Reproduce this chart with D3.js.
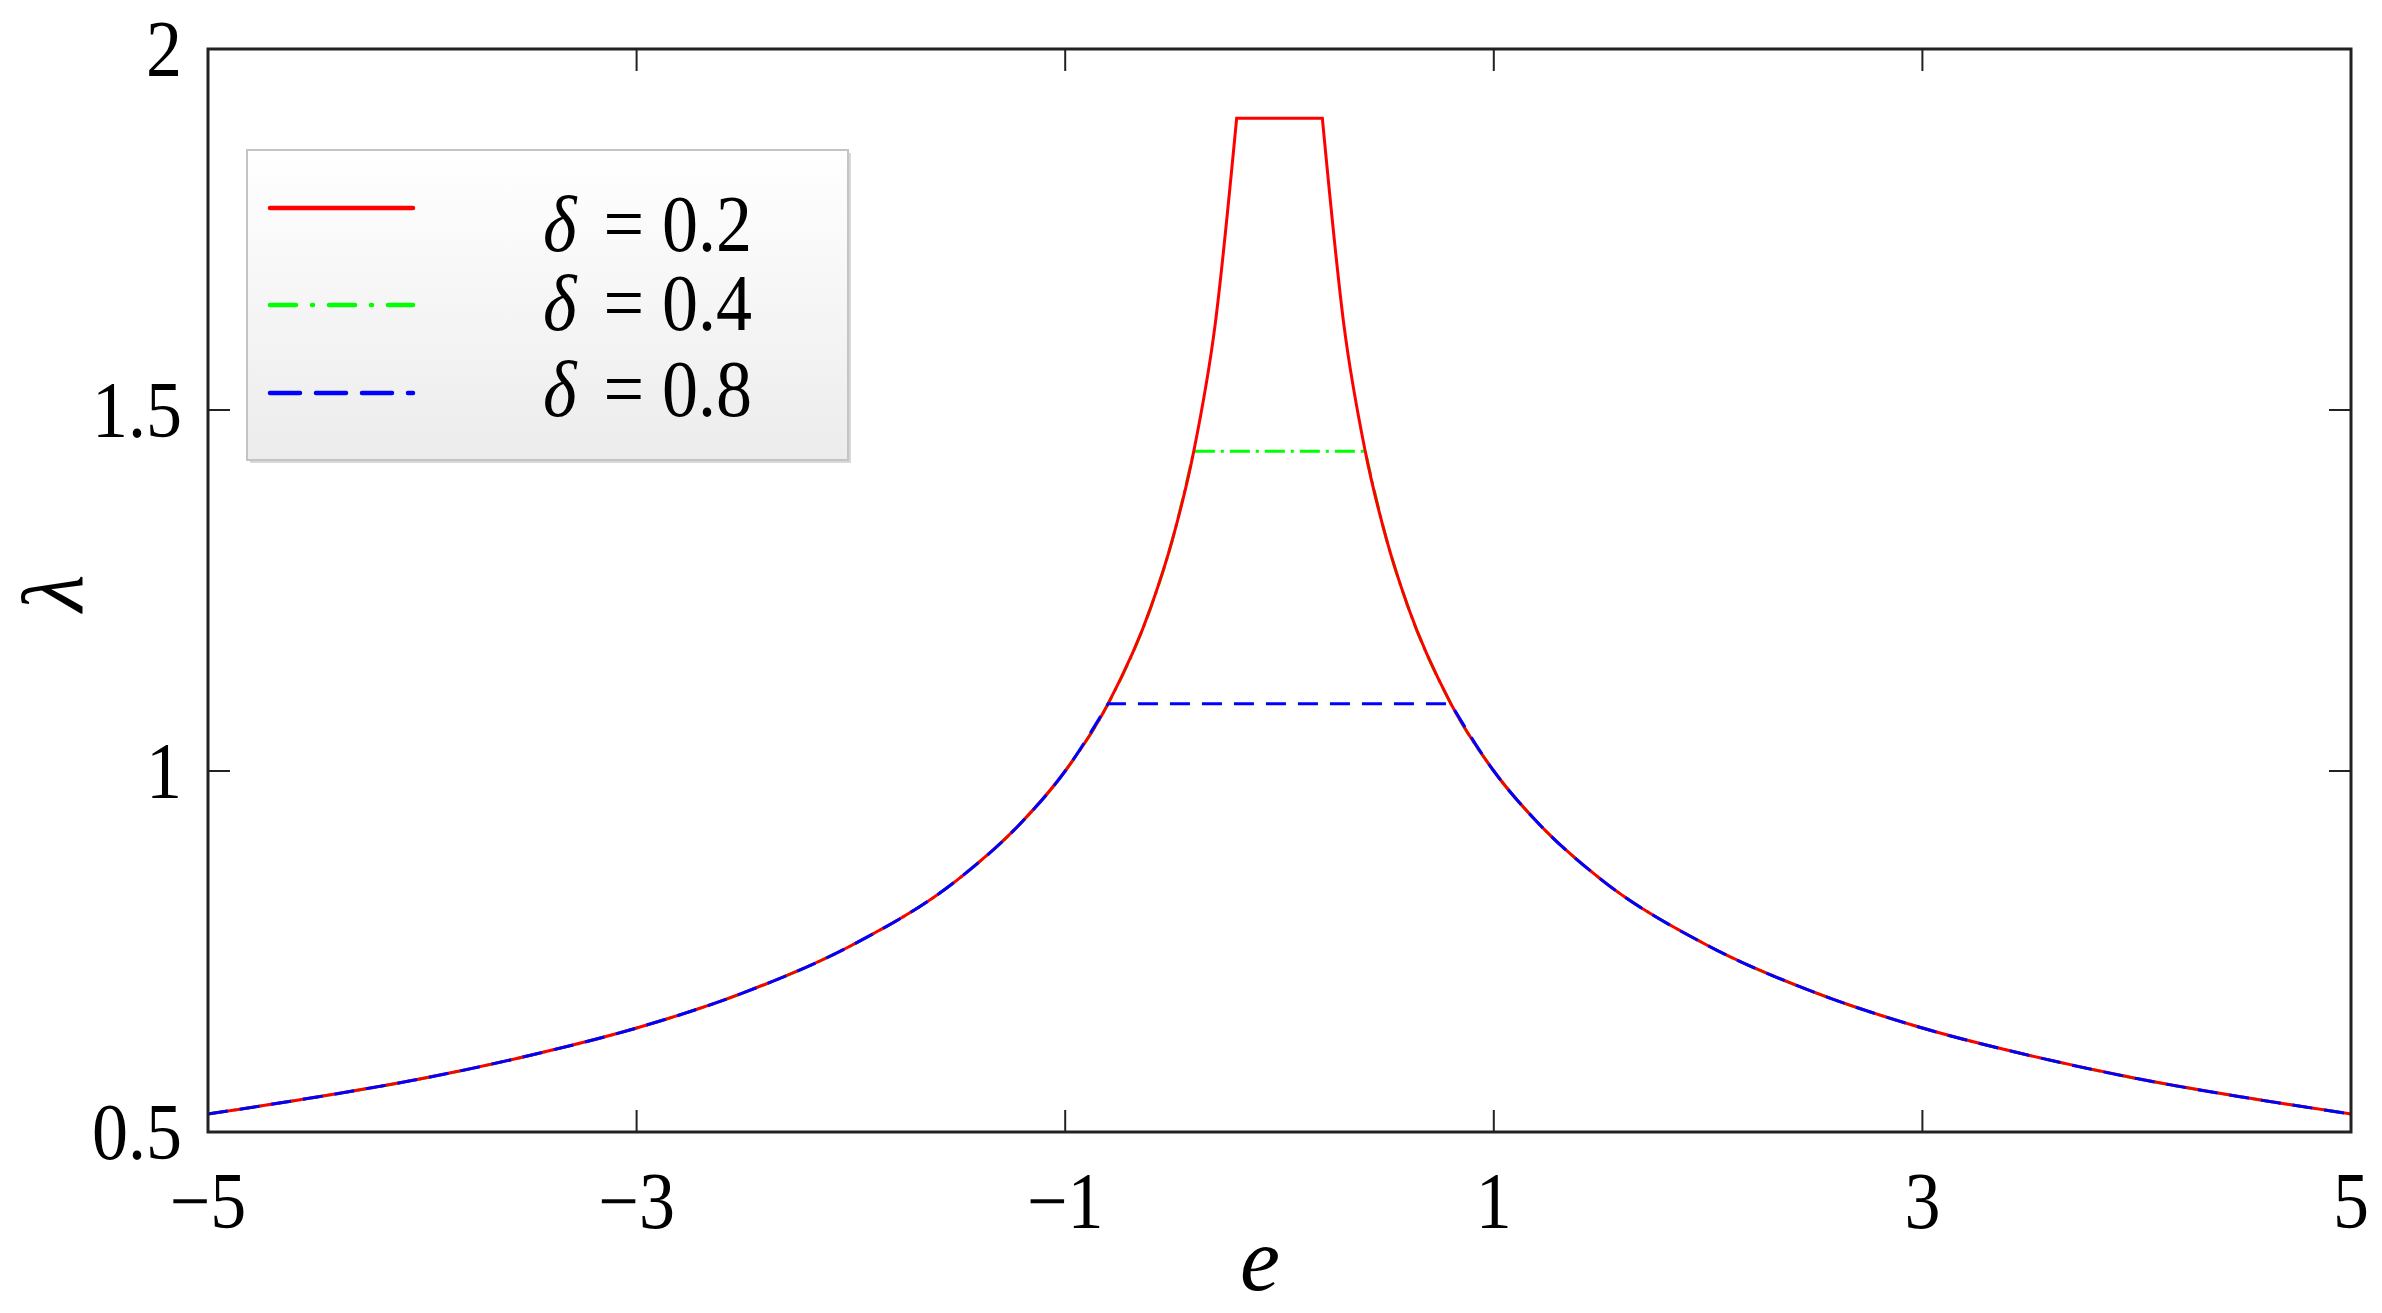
<!DOCTYPE html>
<html>
<meta charset="utf-8">
<style>
  body { margin: 0; background: #fff; }
</style>
<body>
<svg width="2382" height="1313"></svg>
<script src="https://d3js.org/d3.v7.min.js"></script>
<script>
// values (curve is symmetric in e)
const eVals   = [-5, -4.5, -4, -3.5, -3, -2.5, -2, -1.5, -1.2, -1, -0.8, -0.6, -0.5, -0.4, -0.3, -0.2,
                  0.2, 0.3, 0.4, 0.5, 0.6, 0.8, 1, 1.2, 1.5, 2, 2.5, 3, 3.5, 4, 4.5, 5];
const lamVals = [0.525, 0.548, 0.574, 0.606, 0.644, 0.693, 0.758, 0.850, 0.930, 1.0, 1.093, 1.227, 1.32, 1.443, 1.619, 1.904,
                 1.904, 1.619, 1.443, 1.32, 1.227, 1.093, 1.0, 0.930, 0.850, 0.758, 0.693, 0.644, 0.606, 0.574, 0.548, 0.525];
const deltas = [0.2, 0.4, 0.8];
const legendLabels = ["δ = 0.2", "δ = 0.4", "δ = 0.8"];
const colors = ["#ff0000", "#00ff00", "#0000ff"];
const xTicks = [-5, -3, -1, 1, 3, 5];
const yTicks = [0.5, 1, 1.5, 2];

const FONT = "'Liberation Serif', 'Times New Roman', Tinos, serif";

const svg = d3.select("svg").attr("font-family", FONT);
const width = +svg.attr("width"), height = +svg.attr("height");
const margin = {top: 49, right: 31, bottom: 181, left: 208};
const innerW = width - margin.left - margin.right;
const innerH = height - margin.top - margin.bottom;

const x = d3.scaleLinear().domain([-5, 5]).range([0, innerW]);
const y = d3.scaleLinear().domain([0.5, 2]).range([innerH, 0]);

const g = svg.append("g").attr("transform", `translate(${margin.left},${margin.top})`);

// points of one curve: the shared curve where |e| >= delta
function series(delta) {
  const pts = [];
  eVals.forEach((e, i) => {
    if (Math.abs(e) >= delta - 1e-9) pts.push([e, lamVals[i]]);
  });
  return pts;
}

const line = d3.line()
  .x(d => x(d[0])).y(d => y(d[1]))
  .curve(d3.curveMonotoneX);

const dashes = {0.2: null, 0.4: "20,6,3,6", 0.8: "20,12"};
// draw order: green, red, blue (green tails sit under red)
[1, 0, 2].forEach(i => {
  const d = deltas[i];
  const pts = series(d);
  const left = pts.filter(p => p[0] < 0), right = pts.filter(p => p[0] > 0);
  // flat part joins the two cut points
  const path = line(left) + "L" + line(right).slice(1);
  g.append("path")
    .attr("d", path)
    .attr("fill", "none")
    .attr("stroke", colors[i])
    .attr("stroke-width", 3)
    .attr("stroke-dasharray", dashes[d]);
});

// frame
g.append("rect").attr("width", innerW).attr("height", innerH)
  .attr("fill", "none").attr("stroke", "#222").attr("stroke-width", 3);

// inward ticks on all four sides
const tl = 22;
const tickG = g.append("g").attr("stroke", "#222").attr("stroke-width", 2);
xTicks.forEach(t => {
  tickG.append("line").attr("x1", x(t)).attr("x2", x(t)).attr("y1", innerH).attr("y2", innerH - tl);
  tickG.append("line").attr("x1", x(t)).attr("x2", x(t)).attr("y1", 0).attr("y2", tl);
});
yTicks.forEach(t => {
  tickG.append("line").attr("x1", 0).attr("x2", tl).attr("y1", y(t)).attr("y2", y(t));
  tickG.append("line").attr("x1", innerW).attr("x2", innerW - tl).attr("y1", y(t)).attr("y2", y(t));
});

// tick labels (slightly condensed like the original)
const sx = 0.9;
xTicks.forEach(t => {
  g.append("text")
    .attr("transform", `translate(${x(t)},${innerH + 96}) scale(${sx},1)`)
    .attr("text-anchor", "middle")
    .style("font-size", "80px")
    .text(t < 0 ? "\u2212" + Math.abs(t) : t);
});
yTicks.forEach(t => {
  g.append("text")
    .attr("transform", `translate(-26,${y(t) + 27}) scale(${sx},1)`)
    .attr("text-anchor", "end")
    .style("font-size", "80px")
    .text(t);
});

// axis titles
svg.append("text").attr("x", 1260).attr("y", 1290)
  .attr("text-anchor", "middle").style("font-size", "90px").style("font-style", "italic").text("e");
svg.append("text").attr("transform", "translate(82,593) rotate(-90)")
  .attr("text-anchor", "middle").style("font-size", "86px").style("font-style", "italic").text("λ");

// legend
const defs = svg.append("defs");
const grad = defs.append("linearGradient").attr("id", "lg").attr("x1", 0).attr("y1", 0).attr("x2", 0).attr("y2", 1);
grad.append("stop").attr("offset", "0%").attr("stop-color", "#ffffff");
grad.append("stop").attr("offset", "100%").attr("stop-color", "#ececec");

const leg = svg.append("g").attr("transform", "translate(247,150)");
leg.append("rect").attr("x", 3).attr("y", 3).attr("width", 601).attr("height", 310).attr("fill", "#d8d8d8");
leg.append("rect").attr("width", 601).attr("height", 310)
  .attr("fill", "url(#lg)").attr("stroke", "#c4c4c4").attr("stroke-width", 2);

const rowY = [58, 155, 243];
const textY = [101, 180, 266];
[0, 1, 2].forEach(i => {
  leg.append("line")
    .attr("x1", 23).attr("x2", 166).attr("y1", rowY[i]).attr("y2", rowY[i])
    .attr("stroke", colors[i]).attr("stroke-width", 4.5)
    .attr("stroke-linecap", "round")
    .attr("stroke-dasharray", i === 0 ? null : (i === 1 ? "26,16,1,16" : "30,16"));
  const t = leg.append("text")
    .attr("transform", `translate(505,${textY[i]}) scale(${sx},1)`)
    .attr("text-anchor", "end")
    .style("font-size", "80px");
  t.append("tspan").style("font-style", "italic").text("δ");
  t.append("tspan").attr("dx", 10).text(legendLabels[i].slice(1));
});
</script>
</body>
</html>
